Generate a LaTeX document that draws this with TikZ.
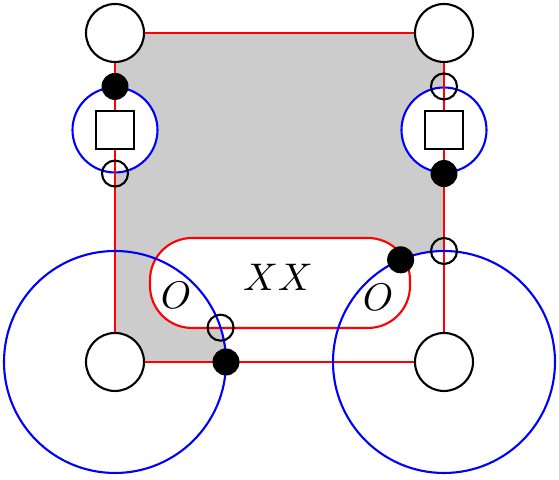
\documentclass[tikz,border=0pt]{standalone}
\usepackage{amsmath, amssymb}
\usepackage{xcolor}
\usepackage{tikz}
\usetikzlibrary{shapes,calc,positioning}

\begin{document}
\begin{tikzpicture}[
        semithick, font=\fontsize{11}{13}\selectfont,
        corner/.style={circle, draw, fill=white, minimum size=0.58cm, inner sep=0pt},
        disk/.style={circle, fill=black, minimum size=0.27cm, inner sep=0pt},
        ring/.style={circle, draw, minimum size=0.26cm, inner sep=0pt},
        handle/.style={circle, draw=blue, fill=white, minimum size=0.85cm, inner sep=0pt},
        sq/.style={rectangle, draw, fill=white, minimum size=0.38cm, inner sep=0pt},
        bigdisk/.style={circle, draw=blue, minimum size=2.22cm, inner sep=0pt},
        pill/.style={rectangle, draw=red, fill=white, rounded corners=0.42cm, minimum width=2.6cm, minimum height=0.9cm},
        redline/.style={draw=red}
    ]
        \useasboundingbox (0,0) rectangle (5.59,4.80);
        \coordinate (pTL) at (1.15,4.47);
        \coordinate (pTR) at (4.44,4.47);
        \coordinate (pBL) at (1.15,1.18);
        \coordinate (pBR) at (4.44,1.18);
        \coordinate (qR) at ($(pBR)+(90:1.11)$);
        \coordinate (dR) at ($(pBR)+(113:1.11)$);
        \coordinate (qL) at ($(pBL)+(18:1.11)$);
        \coordinate (dL) at ($(pBL)+(0:1.11)$);
        % shaded surface
        \fill[black!20] (pTL) -- (pTR) -- (qR) arc[start angle=90, end angle=113, radius=1.11]
            -- (qL) arc[start angle=18, end angle=0, radius=1.11] -- (pBL) -- cycle;
        \node[handle] (hL) at (1.15,3.50) {};
        \node[handle] (hR) at (4.44,3.50) {};
        \draw[redline] (pTL) -- (pTR) -- (pBR) -- (pBL) -- cycle;
        \node[pill] (box) at (2.80,1.97) {};
        \node[bigdisk] (gL) at (pBL) {};
        \node[bigdisk] (gR) at (pBR) {};
        \node[sq] (sL) at (hL) {};
        \node[sq] (sR) at (hR) {};
        \node[disk] (dTL) at (hL.north) {};
        \node[ring] (rTL) at (hL.south) {};
        \node[ring] (rTR) at (hR.north) {};
        \node[disk] (dTR) at (hR.south) {};
        \node[disk] (dBL) at (dL) {};
        \node[ring] (rBL) at (qL) {};
        \node[disk] (dBR) at (dR) {};
        \node[ring] (rBR) at (qR) {};
        \node[corner] (tl) at (pTL) {};
        \node[corner] (tr) at (pTR) {};
        \node[corner] (bl) at (pBL) {};
        \node[corner] (br) at (pBR) {};
        \node (xx) at (2.78,2.03) {$XX$};
        \node (oL) at (1.76,1.85) {$O$};
        \node (oR) at (3.78,1.83) {$O$};
    \end{tikzpicture}
\end{document}
